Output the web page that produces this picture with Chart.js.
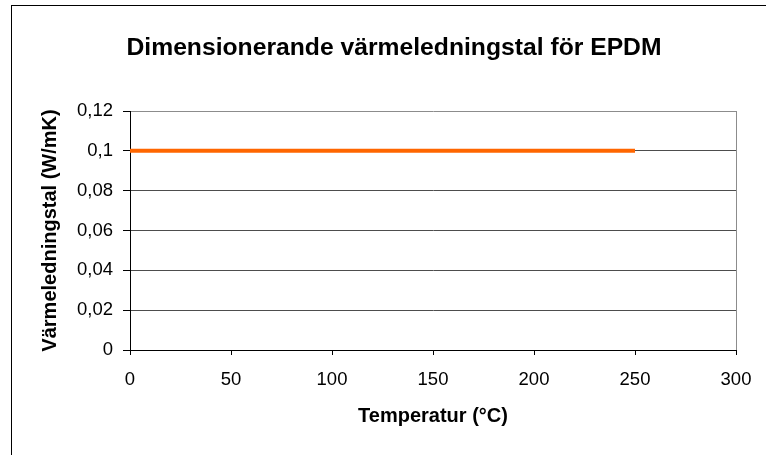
<!DOCTYPE html>
<html>
<head>
<meta charset="utf-8">
<title>Värmeledningstal EPDM</title>
<script src="https://cdn.jsdelivr.net/npm/chart.js@4/dist/chart.umd.min.js"></script>
<style>
  html, body { margin: 0; padding: 0; background: #fff; }
  #wrap { width: 766px; height: 455px; }
</style>
</head>
<body>
<div id="wrap"><canvas id="c" width="766" height="455"></canvas></div>
<script>
// Dimensionerande värmeledningstal för EPDM
const chartTitle = 'Dimensionerande värmeledningstal för EPDM';
const xAxisTitle = 'Temperatur (°C)';
const yAxisTitle = 'Värmeledningstal (W/mK)';

// Temperatur (°C) och värmeledningstal (W/mK)
const temperatures = [0, 250];
const conductivity = [0.1, 0.1];

// Axelindelning
const xTickLabels = ['0', '50', '100', '150', '200', '250', '300'];
const yTickLabels = ['0', '0,02', '0,04', '0,06', '0,08', '0,1', '0,12'];

const FONT = "'Liberation Sans', Arial, sans-serif";

// Ram runt diagrammet och rubrik
const framePlugin = {
  id: 'frameAndTitle',
  beforeDraw(chart) {
    const ctx = chart.ctx;
    ctx.save();
    ctx.fillStyle = '#ffffff';
    ctx.fillRect(0, 0, chart.width, chart.height);
    ctx.strokeStyle = '#000000';
    ctx.lineWidth = 1;
    ctx.strokeRect(11.5, 5.5, chart.width + 20, chart.height + 20);
    ctx.restore();
  },
  afterDraw(chart) {
    const ctx = chart.ctx;
    ctx.save();
    ctx.fillStyle = '#000000';
    ctx.font = 'bold 24.7px ' + FONT;
    ctx.textAlign = 'center';
    ctx.textBaseline = 'alphabetic';
    ctx.fillText(chartTitle, 394, 55);
    ctx.restore();
  }
};

new Chart(document.getElementById('c'), {
  type: 'line',
  data: {
    datasets: [{
      data: temperatures.map((t, i) => ({ x: t, y: conductivity[i] })),
      borderColor: '#FF6600',
      backgroundColor: '#FF6600',
      borderWidth: 4,
      pointRadius: 0,
      pointHoverRadius: 0,
      fill: false,
      tension: 0
    }]
  },
  options: {
    responsive: false,
    animation: false,
    events: [],
    layout: { padding: { left: 0, right: 30, top: 111, bottom: 0 } },
    plugins: {
      legend: { display: false },
      title: { display: false },
      tooltip: { enabled: false }
    },
    scales: {
      x: {
        type: 'linear',
        min: 0,
        max: 300,
        afterFit(scale) { scale.height = 105; },
        ticks: {
          stepSize: 50,
          padding: 14,
          color: '#000',
          font: { family: FONT, size: 18.5 },
          maxRotation: 0,
          callback: (v, i) => xTickLabels[i]
        },
        grid: {
          drawOnChartArea: true,
          tickLength: 5,
          tickColor: '#000',
          color: ctx => (ctx.tick && ctx.tick.value === 300) ? '#8c8c8c' : 'rgba(0,0,0,0)',
          lineWidth: 1
        },
        border: { display: true, color: '#000', width: 1 },
        title: {
          display: true,
          text: xAxisTitle,
          color: '#000',
          font: { family: FONT, size: 20, weight: 'bold' },
          padding: { top: 0, bottom: 27 }
        }
      },
      y: {
        type: 'linear',
        min: 0,
        max: 0.12,
        afterFit(scale) { scale.width = 130; },
        ticks: {
          stepSize: 0.02,
          padding: 10,
          color: '#000',
          font: { family: FONT, size: 18.5 },
          callback: (v, i) => yTickLabels[i]
        },
        grid: {
          tickLength: 7,
          tickColor: '#000',
          color: ctx => {
            if (!ctx.tick) return '#4d4d4d';
            if (ctx.tick.value === 0) return '#000';
            if (Math.abs(ctx.tick.value - 0.12) < 1e-9) return '#8c8c8c';
            return '#4d4d4d';
          },
          lineWidth: 1
        },
        border: { display: true, color: '#000', width: 1 },
        title: {
          display: true,
          text: yAxisTitle,
          color: '#000',
          font: { family: FONT, size: 20, weight: 'bold' },
          padding: { top: 38, bottom: 0 }
        }
      }
    }
  },
  plugins: [framePlugin]
});
</script>
</body>
</html>
